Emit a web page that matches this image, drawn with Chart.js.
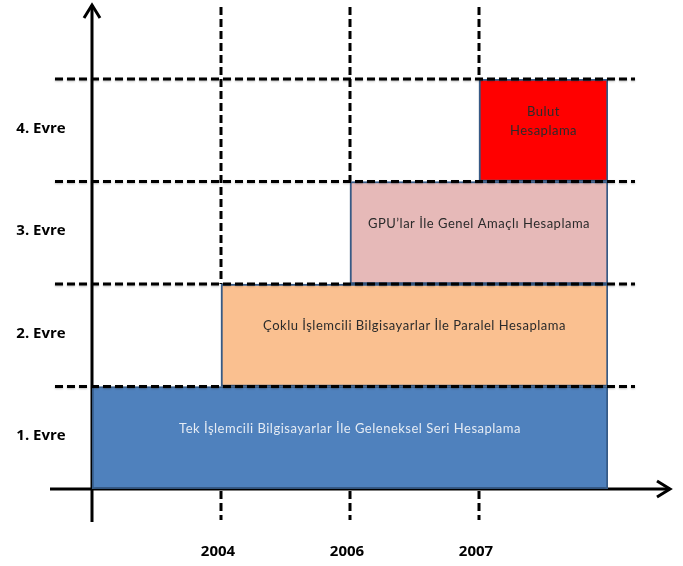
<!DOCTYPE html>
<html>
<head>
<meta charset="utf-8">
<script src="https://cdn.jsdelivr.net/npm/chart.js@4/dist/chart.umd.min.js"></script>
<style>
html,body{margin:0;padding:0;background:#fff;}
#wrap{width:683px;height:566px;position:relative;}
</style>
</head>
<body>
<div id="wrap"><canvas id="c"></canvas></div>
<script>
// ---- data ----
const phaseLabels = ['1. Evre', '2. Evre', '3. Evre', '4. Evre'];
const phaseCenters = [0.5, 1.5, 2.5, 3.5];
const phaseStart = [0, 1, 2, 3];
const phaseEnd = [4, 4, 4, 4];
const yearLabels = ['2004', '2006', '2007'];
const yearPositions = [1, 2, 3];
const barTexts = [
  ['Tek İşlemcili Bilgisayarlar İle Geleneksel Seri Hesaplama'],
  ['Çoklu İşlemcili Bilgisayarlar İle Paralel Hesaplama'],
  ['GPU’lar İle Genel Amaçlı Hesaplama'],
  ['Bulut', 'Hesaplama']
];

// ---- styles ----
const barColors = ['#4F81BD', '#FAC090', '#E6B9B8', '#FF0000'];
const textColors = ['#E4EBF4', '#2b2b2b', '#2b2b2b', '#2b2b2b'];
const FONT = 'Lato, "Open Sans", sans-serif';
const LFONT = '"Open Sans", Lato, sans-serif';

function seg(ctx, x1, y1, x2, y2) {
  ctx.beginPath(); ctx.moveTo(x1, y1); ctx.lineTo(x2, y2); ctx.stroke();
}

const deco = {
  id: 'deco',
  beforeDatasetsDraw(chart) {
    const {ctx, scales: {x, y}} = chart;
    const x0 = x.getPixelForValue(0), y0 = y.getPixelForValue(0);
    const yTop = y.getPixelForValue(4);
    ctx.save();
    ctx.strokeStyle = '#000';
    ctx.lineWidth = 3;
    ctx.lineCap = 'butt';
    // vertical dashed lines at years (above the bar starting there, and below the x axis)
    ctx.setLineDash([8, 4]);
    yearPositions.forEach(v => {
      const px = x.getPixelForValue(v);
      seg(ctx, px, yTop - 72, px, y.getPixelForValue(v + 1));
      seg(ctx, px, y0 + 2, px, y0 + 31);
    });
    ctx.setLineDash([]);
    // y axis with arrow
    seg(ctx, x0, y0 + 33, x0, yTop - 74);
    ctx.beginPath();
    ctx.moveTo(x0 - 8, yTop - 61); ctx.lineTo(x0, yTop - 74); ctx.lineTo(x0 + 8, yTop - 61);
    ctx.stroke();
    // x axis with arrow
    const xEnd = x.getPixelForValue(4) + 62;
    seg(ctx, x0 - 42, y0, xEnd, y0);
    ctx.beginPath();
    ctx.moveTo(xEnd - 13, y0 - 8); ctx.lineTo(xEnd, y0); ctx.lineTo(xEnd - 13, y0 + 8);
    ctx.stroke();
    ctx.restore();
  },
  beforeDatasetDraw(chart) {
    const ctx = chart.ctx;
    ctx.save();
    ctx.shadowColor = 'rgba(0,0,0,0.25)';
    ctx.shadowBlur = 3;
    ctx.shadowOffsetY = 2;
  },
  afterDatasetDraw(chart) {
    chart.ctx.restore();
  },
  afterDatasetsDraw(chart) {
    const {ctx, scales: {x, y}} = chart;
    const x0 = x.getPixelForValue(0), x4 = x.getPixelForValue(4);
    ctx.save();
    // horizontal dashed lines
    ctx.strokeStyle = '#000';
    ctx.lineWidth = 3;
    ctx.setLineDash([8, 4]);
    ctx.shadowColor = 'rgba(0,0,0,0.25)';
    ctx.shadowBlur = 2;
    ctx.shadowOffsetY = 1;
    [1, 2, 3, 4].forEach(v => {
      const py = y.getPixelForValue(v);
      seg(ctx, x0 - 37, py, x4 + 27, py);
    });
    ctx.restore();

    ctx.save();
    // bar texts
    ctx.textAlign = 'center';
    ctx.textBaseline = 'middle';
    ctx.font = '13px ' + FONT;
    ctx.letterSpacing = '0.5px';
    const meta = chart.getDatasetMeta(0);
    meta.data.forEach((bar, i) => {
      const cx = (x.getPixelForValue(phaseStart[i]) + x.getPixelForValue(phaseEnd[i])) / 2;
      const cy = y.getPixelForValue(phaseCenters[i]) - 9;
      const lines = barTexts[i];
      ctx.fillStyle = textColors[i];
      lines.forEach((t, k) => {
        ctx.fillText(t, cx, cy + (k - (lines.length - 1) / 2) * 19);
      });
    });
    ctx.letterSpacing = '0px';
    // phase labels
    ctx.fillStyle = '#000';
    ctx.font = 'bold 15px ' + LFONT;
    phaseLabels.forEach((t, i) => {
      ctx.fillText(t, 41, y.getPixelForValue(phaseCenters[i]) - 2);
    });
    // year labels
    ctx.font = 'bold 15px ' + LFONT;
    yearLabels.forEach((t, i) => {
      ctx.fillText(t, x.getPixelForValue(yearPositions[i]) - 3, y.getPixelForValue(0) + 63);
    });
    ctx.restore();
  }
};

new Chart(document.getElementById('c'), {
  type: 'bar',
  data: {
    datasets: [{
      data: phaseCenters.map((c, i) => ({y: c, x: [phaseStart[i], phaseEnd[i]]})),
      backgroundColor: barColors,
      borderColor: '#385D8A',
      borderWidth: 2,
      borderSkipped: false,
      barPercentage: 1,
      categoryPercentage: 1
    }]
  },
  options: {
    indexAxis: 'y',
    responsive: true,
    maintainAspectRatio: false,
    animation: false,
    layout: {padding: {left: 92, right: 75, top: 79, bottom: 77}},
    plugins: {legend: {display: false}, tooltip: {enabled: false}},
    scales: {
      x: {type: 'linear', min: 0, max: 4, display: false},
      y: {type: 'linear', min: 0, max: 4, display: false, offset: false, ticks: {stepSize: 1}}
    }
  },
  plugins: [deco]
});
</script>
</body>
</html>
